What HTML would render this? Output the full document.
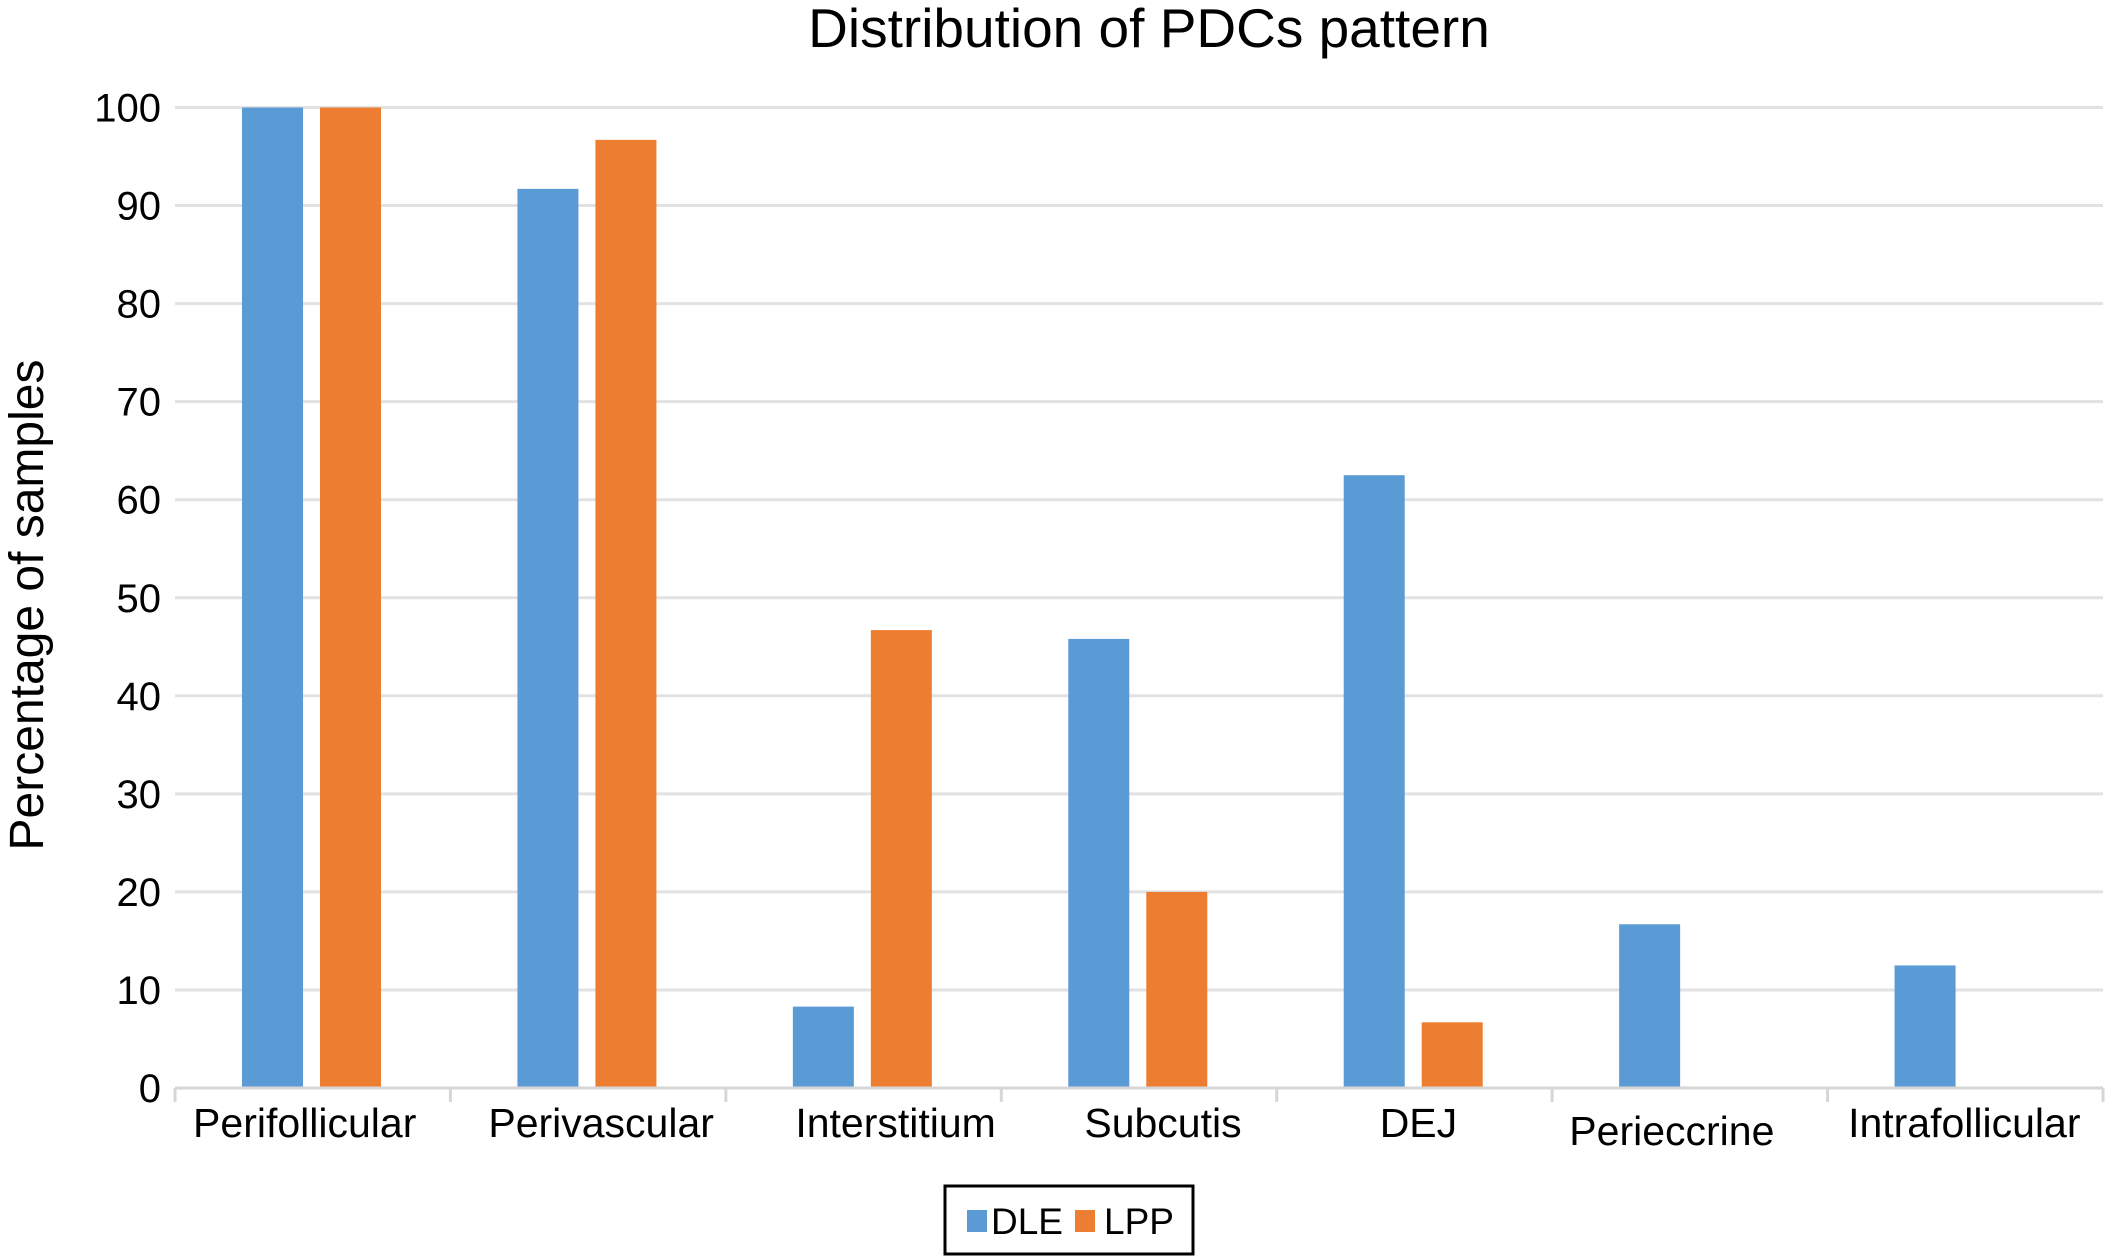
<!DOCTYPE html>
<html><head><meta charset="utf-8"><style>
html,body{margin:0;padding:0;background:#fff;}
svg{display:block;font-family:"Liberation Sans",Arial,sans-serif;}
</style></head><body>
<svg id="chart" width="2107" height="1256" viewBox="0 0 2107 1256">
<text x="1149" y="47" font-size="55" text-anchor="middle" fill="#000">Distribution of PDCs pattern</text>
<text transform="translate(43,605) rotate(-90)" font-size="48" text-anchor="middle" fill="#000">Percentage of samples</text>
<g id="grid"></g><g id="bars"></g><g id="xaxis"></g>
<g>
<rect x="945" y="1186" width="248" height="68" fill="#fff" stroke="#000" stroke-width="3"/>
<rect x="967" y="1210" width="20" height="22" fill="#5b9bd5"/>
<text x="991" y="1234" font-size="37" fill="#000">DLE</text>
<rect x="1075" y="1210" width="20" height="22" fill="#ed7d31"/>
<text x="1104" y="1234" font-size="37" fill="#000">LPP</text>
</g>
</svg>
<script>
const categories=["Perifollicular","Perivascular","Interstitium","Subcutis","DEJ","Perieccrine","Intrafollicular"];
const dleValues=[100,91.7,8.3,45.8,62.5,16.7,12.5];
const lppValues=[100,96.7,46.7,20,6.7,0,0];
const yTicks=[0,10,20,30,40,50,60,70,80,90,100];
const NS="http://www.w3.org/2000/svg";
const L=175,R=2103,T=107.5,B=1088;
const cw=(R-L)/categories.length;
const labelShift=[-8,13,32,24,4,-18,-1];
const y=v=>B-(B-T)*v/100;
const xc=i=>L+i*cw;
function mk(tag,attrs,parent){const e=document.createElementNS(NS,tag);for(const k in attrs)e.setAttribute(k,attrs[k]);parent.appendChild(e);return e;}
const grid=document.getElementById('grid'),bars=document.getElementById('bars'),xa=document.getElementById('xaxis');
yTicks.forEach(t=>{
 if(t>0){const g=mk('line',{x1:L,x2:R,y1:y(t),y2:y(t),stroke:'#e2e2e2','stroke-width':3},grid);
 
 }
 const tx=mk('text',{x:161,y:y(t)+14,'font-size':40,'text-anchor':'end',fill:'#000'},grid);
 tx.textContent=t;
 
 
});
categories.forEach((c,i)=>{
 const x0=xc(i);
 const b1=mk('rect',{x:x0+67,y:y(dleValues[i]),width:61,height:B-y(dleValues[i]),fill:'#5b9bd5'},bars);
 
 
 if(lppValues[i]>0){const b2=mk('rect',{x:x0+145,y:y(lppValues[i]),width:61,height:B-y(lppValues[i]),fill:'#ed7d31'},bars);
 
 }
 const lb=mk('text',{x:x0+cw/2+labelShift[i],y:(i==5?1145:1137),'font-size':41,'text-anchor':'middle',fill:'#000'},xa);
 lb.textContent=c;
 
 
});
const ax=mk('line',{x1:L,x2:R,y1:B,y2:B,stroke:'#d6d6d6','stroke-width':3},xa);


for(let i=0;i<=categories.length;i++){const tk=mk('line',{x1:xc(i),x2:xc(i),y1:B,y2:B+14,stroke:'#d6d6d6','stroke-width':3},xa);
 
 }
</script>
</body></html>
